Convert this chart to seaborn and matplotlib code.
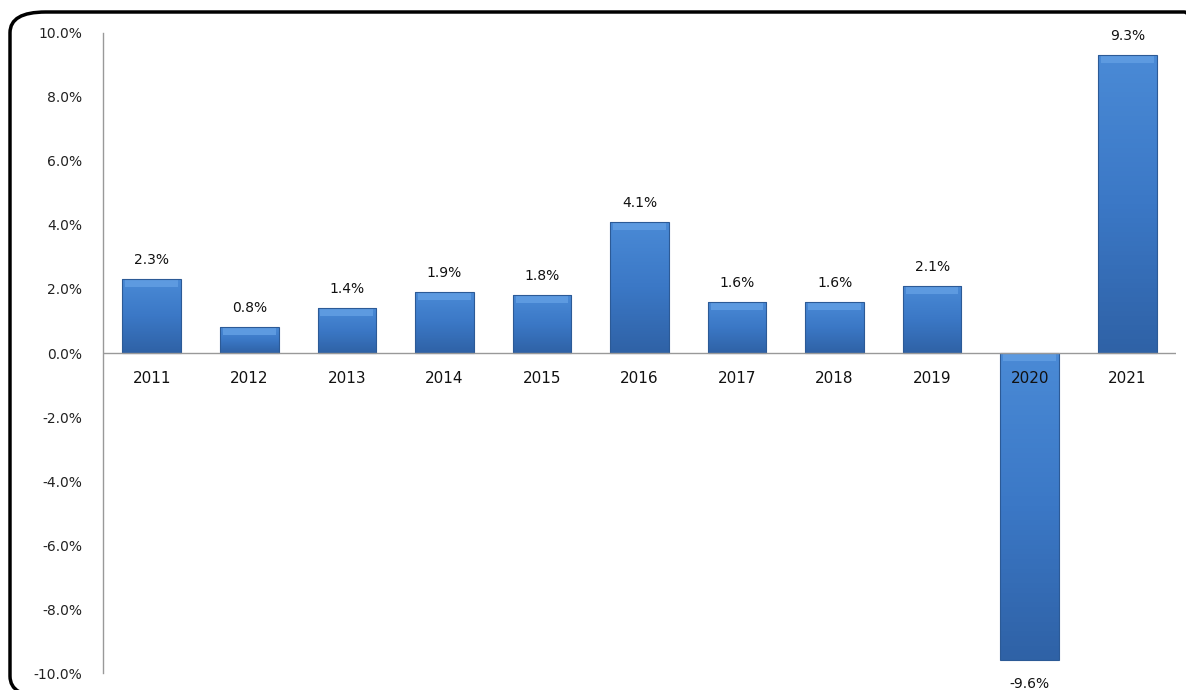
import numpy as np
import pandas as pd
import matplotlib
matplotlib.use("Agg")
import matplotlib.pyplot as plt
from matplotlib.patches import FancyBboxPatch
from matplotlib.colors import LinearSegmentedColormap
import seaborn as sns

# -------- data --------
years = ["2011", "2012", "2013", "2014", "2015", "2016",
         "2017", "2018", "2019", "2020", "2021"]
growth = [2.3, 0.8, 1.4, 1.9, 1.8, 4.1, 1.6, 1.6, 2.1, -9.6, 9.3]
y_ticks = [-10, -8, -6, -4, -2, 0, 2, 4, 6, 8, 10]
# ----------------------

df = pd.DataFrame({"year": years, "growth": growth})

sns.set_theme(style="white")
plt.rcParams["font.family"] = ["DejaVu Sans"]

fig = plt.figure(figsize=(11.86, 6.9), dpi=100)
ax = fig.add_axes([0.0868, 0.0246, 0.9048, 0.9276])

sns.barplot(data=df, x="year", y="growth", color="#3b76c4", width=0.6,
            saturation=1, edgecolor="#2c5a96", linewidth=0.8, ax=ax)

# soft shading inside each bar, lit from above: light top, darker base
shade = LinearSegmentedColormap.from_list("bar", ["#2f62a6", "#3b78c6", "#4a8ad6"])
for bar in ax.patches:
    x0, w, h = bar.get_x(), bar.get_width(), bar.get_height()
    grad = np.linspace(0, 1, 64).reshape(-1, 1)
    lo, hi = min(0, h), max(0, h)
    im = ax.imshow(grad, cmap=shade, aspect="auto", origin="lower",
                   extent=[x0, x0 + w, lo, hi], zorder=2.5)
    im.set_clip_path(bar)
    ax.fill_between([x0 + 0.03, x0 + w - 0.03], hi - 0.25, hi,
                    color="#5d9ae0", linewidth=0, zorder=2.6)
    bar.set_facecolor("none")
    bar.set_zorder(2.7)

ax.set_ylim(-10, 10)
ax.set_xlim(-0.5, len(years) - 0.5)
ax.set_yticks(y_ticks)
ax.set_yticklabels([f"{t:.1f}%" for t in y_ticks], fontsize=10, color="#222222")
ax.tick_params(axis="y", length=0, pad=15)
ax.set_xticks([])
ax.set_xlabel("")
ax.set_ylabel("")

for s in ["top", "right", "bottom"]:
    ax.spines[s].set_visible(False)
ax.spines["left"].set_color("#999999")
ax.spines["left"].set_linewidth(1)
ax.axhline(0, color="#999999", linewidth=1, zorder=4)

for i, (yr, v) in enumerate(zip(years, growth)):
    ax.text(i, -0.8, yr, ha="center", va="center", fontsize=11,
            color="#111111", zorder=5)
    off = 0.6 if v > 0 else -0.75
    ax.text(i, v + off, f"{v:.1f}%", ha="center", va="center",
            fontsize=10, color="#111111")

border = FancyBboxPatch((10 / 1186, -0.01), 1.02, 1.0 - 12 / 690 + 0.01,
                        boxstyle="round,pad=0,rounding_size=0.03",
                        transform=fig.transFigure, fill=False,
                        edgecolor="black", linewidth=2.5, clip_on=False)
fig.patches.append(border)

fig.savefig("out.png", dpi=100)
